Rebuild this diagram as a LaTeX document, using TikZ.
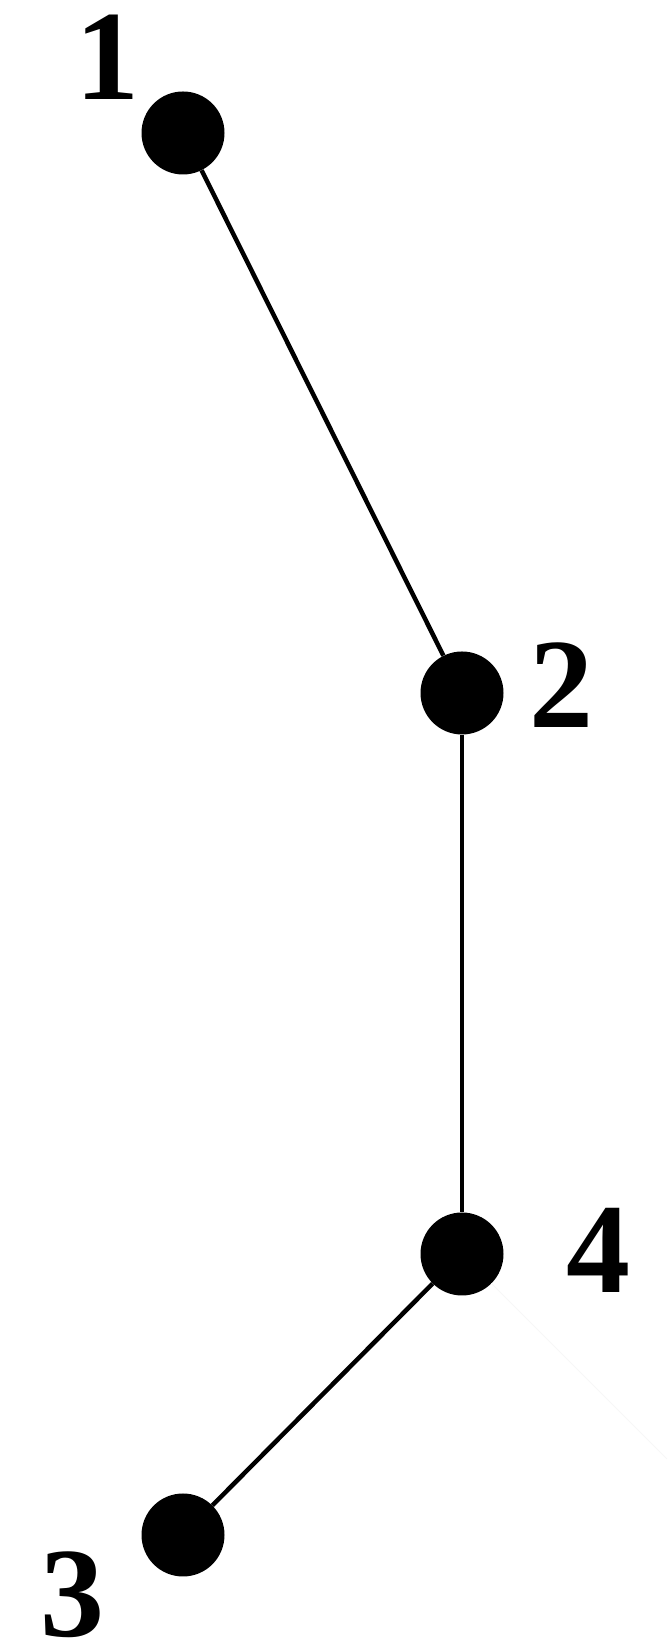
\documentclass[tikz,border=0pt]{standalone}
\usepackage{fontspec}
\setmainfont{Liberation Serif}
\begin{document}
\begin{tikzpicture}[x=1pt,y=1pt,
  vertex/.style={circle,fill=black,minimum size=83pt,inner sep=0pt},
  lab/.style={anchor=base,inner sep=0pt,font=\fontsize{128}{128}\selectfont\bfseries},
  edge/.style={line width=4.5pt}]
\useasboundingbox (0,0) rectangle (667,1648);
\node[vertex] (n1) at (183,1515) {};
\node[vertex] (n2) at (462,955) {};
\node[vertex] (n4) at (462,394) {};
\node[vertex] (n3) at (183,113) {};
\node[lab] (l1) at (107,1548) {1};
\node[lab] (l2) at (561,920) {2};
\node[lab] (l4) at (598,355) {4};
\node[lab] (l3) at (72,12) {3};
\coordinate (e) at (667,189);
\draw[edge] (n1) -- (n2);
\draw[edge] (n2) -- (n4);
\draw[edge] (n4) -- (n3);
\draw[line width=1pt,black!3] (n4) -- (e);
\end{tikzpicture}
\end{document}
